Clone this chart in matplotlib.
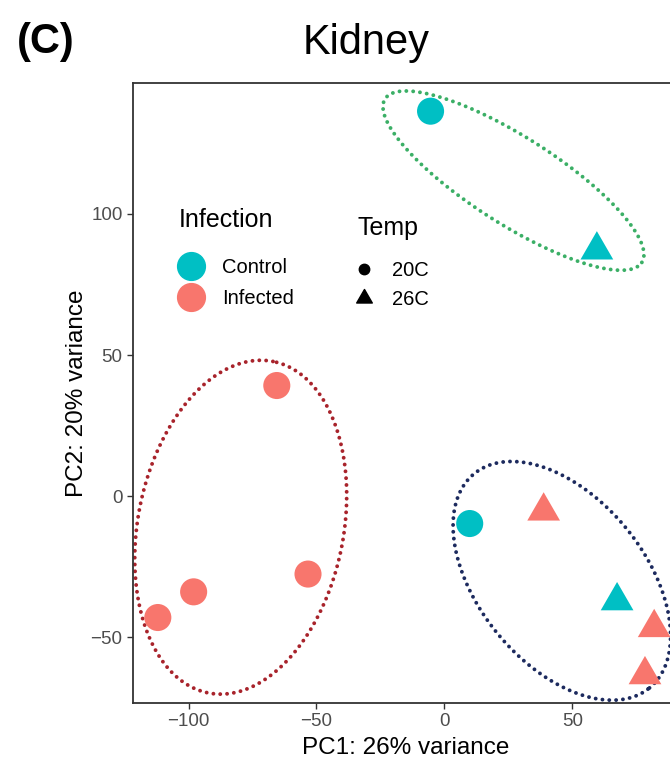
import numpy as np
import matplotlib
matplotlib.use('Agg')
import matplotlib.pyplot as plt
from matplotlib.lines import Line2D
from matplotlib.path import Path

plt.rcParams['font.family'] = ['Liberation Sans', 'DejaVu Sans']

# PCA scores
pc1 = [-5.4, 59.6, -65.5, -53.3, -98.0, -112.0, 9.9, 38.8, 67.5, 82.0, 78.4]
pc2 = [136.4, 87.2, 39.2, -27.6, -33.9, -43.0, -9.7, -5.3, -37.1, -46.6, -63.3]
infection = ['Control', 'Control', 'Infected', 'Infected', 'Infected', 'Infected',
             'Control', 'Infected', 'Control', 'Infected', 'Infected']
temp = ['20C', '26C', '20C', '20C', '20C', '20C', '20C', '26C', '26C', '26C', '26C']

infection_levels = ['Control', 'Infected']
temp_levels = ['20C', '26C']

# hand drawn group outlines: centre (data), semi axes (x units on screen), screen angle
ell_cx = [27.0, -79.6, 45.9]
ell_cy = [111.8, -11.0, -30.0]
ell_a = [59.5, 66.0, 54.1]
ell_b = [17.0, 40.2, 32.5]
ell_angle = [-32.5, 79.0, -50.7]
ell_colors = ['#3BAF66', '#A8232B', '#1C2A5E']

colors = {'Control': '#00BFC4', 'Infected': '#F8766D'}
tri = Path([(-0.866, -0.5), (0.866, -0.5), (0.0, 1.0), (-0.866, -0.5)],
           [Path.MOVETO, Path.LINETO, Path.LINETO, Path.CLOSEPOLY])
markers = {'20C': 'o', '26C': tri}
sizes = {'20C': 380, '26C': 740}

W, H = 670, 760
fig = plt.figure(figsize=(W / 100, H / 100), dpi=100)
ax = fig.add_axes([133 / W, 1 - 703 / H, 546 / W, 620 / H])

x = np.array(pc1)
y = np.array(pc2)
for inf in infection_levels:
    for t in temp_levels:
        m = np.array([(a == inf and b == t) for a, b in zip(infection, temp)])
        if m.any():
            ax.scatter(x[m], y[m], s=sizes[t], marker=markers[t], color=colors[inf],
                       edgecolors='none', zorder=3)

# ggplot style 5% expansion
xr = x.max() - x.min()
yr = y.max() - y.min()
ax.set_xlim(x.min() - 0.05 * xr, x.max() + 0.05 * xr)
ax.set_ylim(y.min() - 0.05 * yr, y.max() + 0.05 * yr)

# ratio to turn screen lengths into y units
bb = ax.get_position()
px_x = bb.width * W / (ax.get_xlim()[1] - ax.get_xlim()[0])
px_y = bb.height * H / (ax.get_ylim()[1] - ax.get_ylim()[0])
ratio = px_x / px_y

t = np.linspace(0, 2 * np.pi, 400)
for cx, cy, a, b, ang, col in zip(ell_cx, ell_cy, ell_a, ell_b, ell_angle, ell_colors):
    th = np.radians(ang)
    ex = a * np.cos(t) * np.cos(th) - b * np.sin(t) * np.sin(th)
    ey = a * np.cos(t) * np.sin(th) + b * np.sin(t) * np.cos(th)
    ax.plot(cx + ex, cy + ey * ratio, color=col, lw=2.8, linestyle=(0, (0.01, 1.75)),
            dash_capstyle='round', zorder=2, clip_on=False)

ax.set_xticks([-100, -50, 0, 50])
ax.set_yticks([-50, 0, 50, 100])
ax.tick_params(labelsize=13.5, labelcolor='#4D4D4D', color='#333333', length=4, width=1)
for side in ['left', 'top', 'bottom', 'right']:
    ax.spines[side].set_color('#333333')
    ax.spines[side].set_linewidth(1.3)
ax.set_xlabel('PC1: 26% variance', fontsize=17.5, labelpad=5)
ax.set_ylabel('PC2: 20% variance', fontsize=17.5, labelpad=2)

# legends: titles as plain text, entries through legend()
fig.text(179 / W, 1 - 220 / H, 'Infection', ha='left', va='center', fontsize=18)
h1 = [Line2D([], [], marker='o', ls='', color=colors[k], markersize=20) for k in infection_levels]
leg1 = ax.legend(h1, infection_levels, loc='upper left',
                 bbox_to_anchor=(177 / W, 1 - 258 / H), bbox_transform=fig.transFigure,
                 frameon=False, fontsize=14.5, alignment='left',
                 handlelength=1.4, handletextpad=0.85, labelspacing=0.62,
                 borderpad=0, borderaxespad=0)
ax.add_artist(leg1)

fig.text(357 / W, 1 - 228 / H, 'Temp', ha='left', va='center', fontsize=18)
h2 = [Line2D([], [], marker='o', ls='', color='black', markersize=7.5),
      Line2D([], [], marker=tri, ls='', color='black', markersize=13)]
leg2 = ax.legend(h2, temp_levels, loc='upper left',
                 bbox_to_anchor=(356 / W, 1 - 261 / H), bbox_transform=fig.transFigure,
                 frameon=False, fontsize=14.5, alignment='left',
                 handlelength=0.8, handletextpad=1.0, labelspacing=0.5,
                 borderpad=0, borderaxespad=0)

fig.text(366 / W, 1 - 43 / H, 'Kidney', ha='center', va='center', fontsize=30)
fig.text(17 / W, 1 - 42 / H, '(C)', ha='left', va='center', fontsize=30, fontweight='bold')

fig.savefig('out.png', dpi=100)
